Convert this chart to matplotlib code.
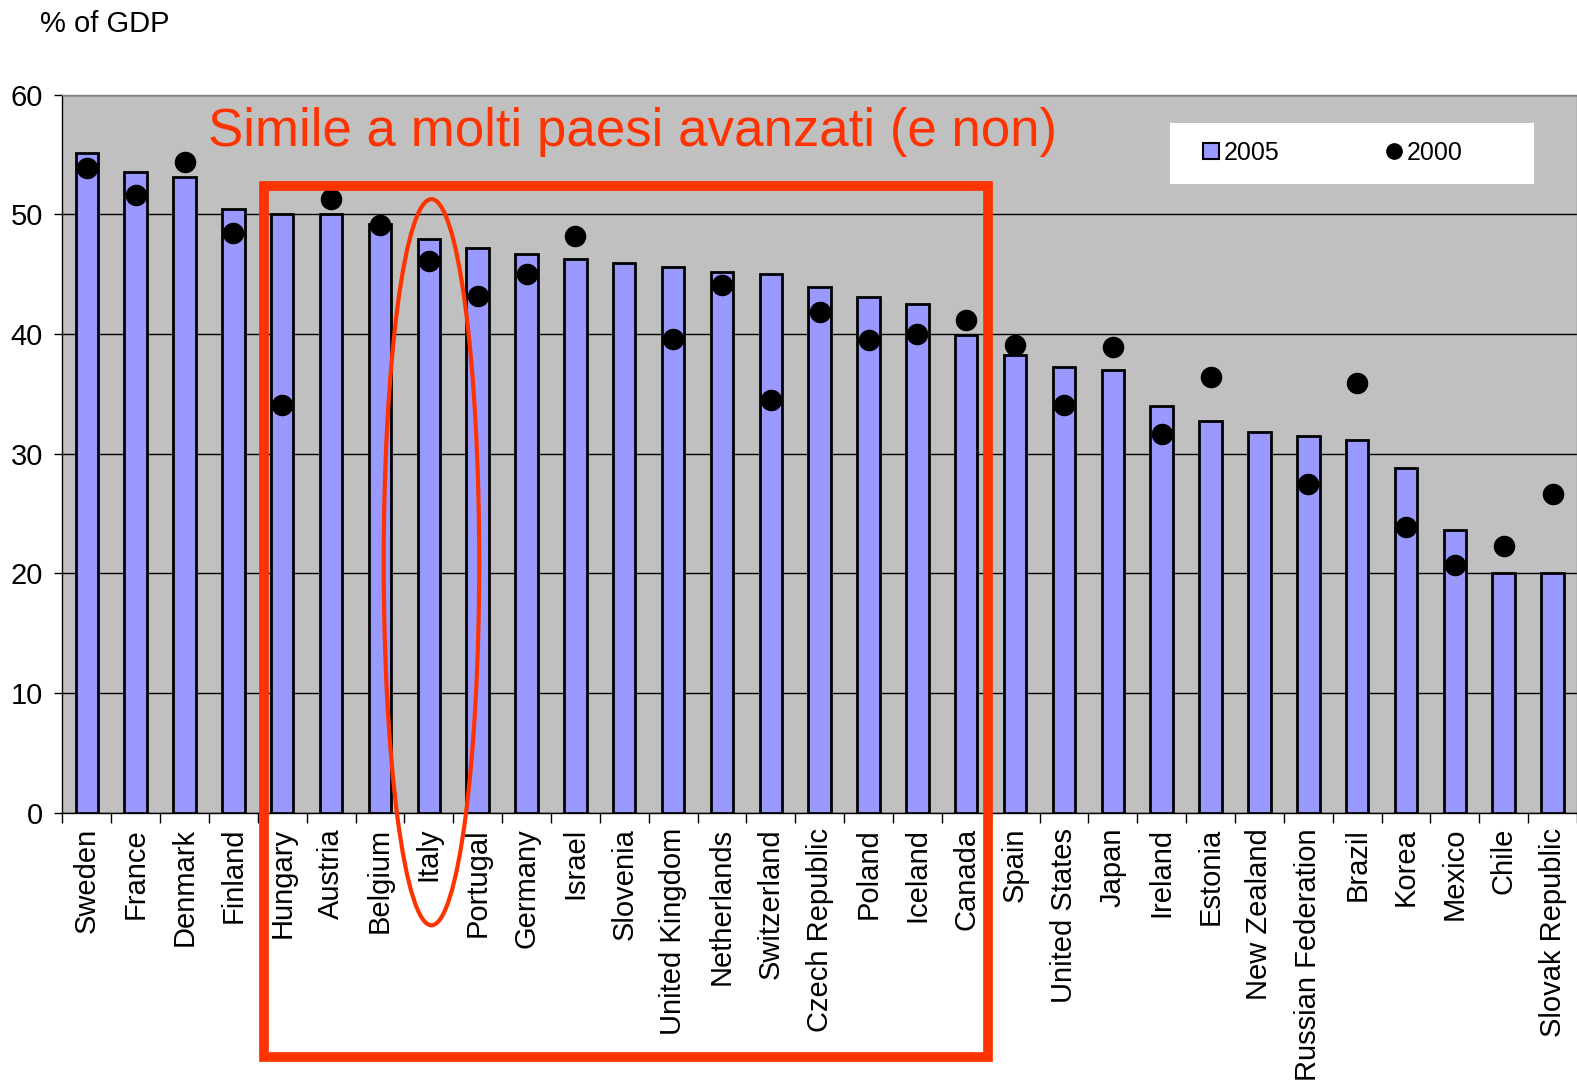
import matplotlib
matplotlib.use("Agg")
import matplotlib.pyplot as plt
from matplotlib.patches import Rectangle, Ellipse
from matplotlib.lines import Line2D
import numpy as np

countries = ["Sweden", "France", "Denmark", "Finland", "Hungary", "Austria", "Belgium",
             "Italy", "Portugal", "Germany", "Israel", "Slovenia", "United Kingdom",
             "Netherlands", "Switzerland", "Czech Republic", "Poland", "Iceland", "Canada",
             "Spain", "United States", "Japan", "Ireland", "Estonia", "New Zealand",
             "Russian Federation", "Brazil", "Korea", "Mexico", "Chile", "Slovak Republic"]
values_2005 = [55.1, 53.5, 53.1, 50.4, 50.0, 50.0, 49.2, 47.9, 47.2, 46.7, 46.3, 45.9,
               45.6, 45.2, 45.0, 43.9, 43.1, 42.5, 39.9, 38.2, 37.2, 37.0, 34.0, 32.7,
               31.8, 31.5, 31.1, 28.8, 23.6, 20.0, 20.0]
values_2000 = [53.9, 51.6, 54.4, 48.4, 34.1, 51.3, 49.1, 46.1, 43.2, 45.0, 48.2, np.nan,
               39.6, 44.1, 34.5, 41.8, 39.5, 40.0, 41.2, 39.1, 34.1, 38.9, 31.6, 36.4,
               np.nan, 27.5, 35.9, 23.9, 20.7, 22.3, 26.6]
yticks = [0, 10, 20, 30, 40, 50, 60]

plt.rcParams['font.family'] = ['Liberation Sans', 'DejaVu Sans']

W, H = 1577, 1085
S = W / 1568.0  # reference readings were taken on a 1568-wide view


def fx(px):
    return px * S / W


def fy(py):
    return 1 - py * S / H


fig = plt.figure(figsize=(W / 100, H / 100), dpi=100)
left, bottom, top = fx(62), fy(808), fy(94)
ax = fig.add_axes([left, bottom, 1 - left, top - bottom])
ax.set_facecolor("#c0c0c0")

x = np.arange(len(countries))
ax.bar(x, values_2005, width=0.46, color="#9999ff", edgecolor="black", linewidth=2,
       zorder=3)
ax.scatter(x, values_2000, s=210, color="black", zorder=4)

ax.set_xlim(-0.5, len(countries) - 0.5)
ax.set_ylim(0, 60)
ax.set_yticks(yticks)
ax.set_yticklabels([str(v) for v in yticks], fontsize=21)
ax.yaxis.grid(True, color="black", linewidth=1)
ax.set_axisbelow(True)
ax.tick_params(axis="y", direction="out", length=6, width=1, pad=8)

ax.set_xticks(x)
ax.set_xticklabels(countries, rotation=90, fontsize=21)
ax.set_xticks(np.arange(len(countries) + 1) - 0.5, minor=True)
ax.tick_params(axis="x", which="major", length=0, pad=11)
ax.tick_params(axis="x", which="minor", length=7, width=1, direction="out")

for side in ["top", "right"]:
    ax.spines[side].set_color("#808080")
    ax.spines[side].set_linewidth(1)
ax.spines["left"].set_linewidth(1)
ax.spines["bottom"].set_linewidth(1)

# legend background box
leg_box = (fx(1163), fy(183), fx(1525) - fx(1163), fy(122) - fy(183))
bg = Rectangle((leg_box[0], leg_box[1]), leg_box[2], leg_box[3],
               transform=fig.transFigure, facecolor="white", edgecolor="none", zorder=0)
fig.patches.append(bg)

handles = [
    Line2D([], [], linestyle="none", marker="s", markersize=12,
           markerfacecolor="#9999ff", markeredgecolor="black", markeredgewidth=1.5,
           label="2005"),
    Line2D([], [], linestyle="none", marker="o", markersize=11,
           markerfacecolor="black", markeredgecolor="black", label="2000"),
]
leg = fig.legend(handles=handles, loc="center left", bbox_to_anchor=(fx(1194), fy(152)),
                 bbox_transform=fig.transFigure,
                 ncol=2, fontsize=18, frameon=False, handletextpad=0.1,
                 columnspacing=4.2, borderpad=0, borderaxespad=0,
                 handlelength=0.8)

fig.text(fx(40), fy(24), "% of GDP", fontsize=21, va="center", ha="left")

fig.text(fx(207), fy(131), "Simile a molti paesi avanzati (e non)", fontsize=38.1,
         color="#ff3300", va="center", ha="left")

rect = Rectangle((fx(262), fy(1051)), fx(982) - fx(262), fy(185) - fy(1051),
                 transform=fig.transFigure, fill=False, edgecolor="#ff3300",
                 linewidth=7, zorder=10)
fig.patches.append(rect)
ell = Ellipse((fx(429), fy(559)), fx(95), fy(0) - fy(722), transform=fig.transFigure,
              fill=False, edgecolor="#ff3300", linewidth=3, zorder=10)
fig.patches.append(ell)

fig.savefig("out.png", dpi=100)
